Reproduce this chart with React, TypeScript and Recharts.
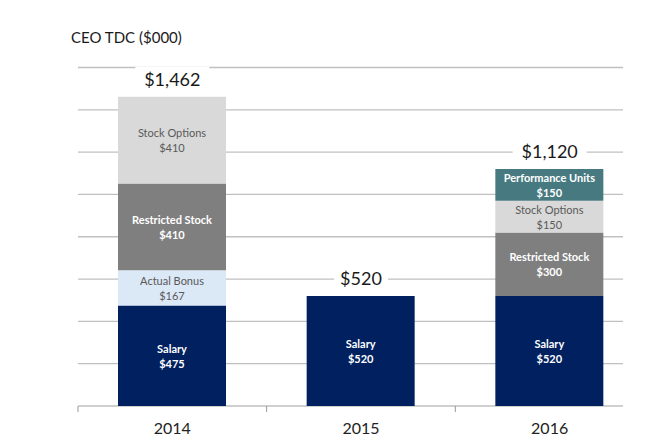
import { Bar, CartesianGrid, ComposedChart, LabelList, Line, XAxis, YAxis } from "recharts";

const years = ["2014", "2015", "2016"];
const salary = [475, 520, 520];
const actualBonus = [167, 0, 0];
const restrictedStock = [410, 0, 300];
const stockOptions = [410, 0, 150];
const performanceUnits = [0, 0, 150];
const yTicks = [0, 200, 400, 600, 800, 1000, 1200, 1400, 1600];

const data = years.map((year, i) => ({
  year,
  salary: salary[i],
  bonus: actualBonus[i],
  restricted: restrictedStock[i],
  options: stockOptions[i],
  performance: performanceUnits[i],
  total:
    salary[i] + actualBonus[i] + restrictedStock[i] + stockOptions[i] + performanceUnits[i]
}));

const FONT = "Lato, 'Open Sans', sans-serif";
const GRID = "#c0c0c0";
const GRID_END = 623;

const fmt = (v: number) => "$" + v.toLocaleString("en-US");

function segmentLabel(name: string, color: string, bold: boolean) {
  return (props: any) => {
    const { x, y, width, height, value } = props;
    if (!value) return null;
    const cx = x + width / 2;
    const cy = y + height / 2;
    return (
      <text
        x={cx}
        y={cy}
        textAnchor="middle"
        fill={color}
        fontFamily={FONT}
        fontSize={11}
        fontWeight={bold ? 700 : 400}
      >
        <tspan x={cx} dy={-3}>
          {name}
        </tspan>
        <tspan x={cx} dy={15}>
          {fmt(value)}
        </tspan>
      </text>
    );
  };
}

function TotalLabel(props: any) {
  const { x, y, value } = props;
  const text = fmt(value);
  const w = text.length * 10 + 14;
  const cy = y - 17;
  return (
    <g>
      <rect x={x - w / 2} y={cy - 13} width={w} height={26} fill="#fff" />
      <text
        x={x}
        y={cy + 6}
        textAnchor="middle"
        fill="#1a1a1a"
        fontFamily={FONT}
        fontSize={18}
      >
        {text}
      </text>
    </g>
  );
}

function YearTick(props: any) {
  const { x, y, payload } = props;
  const band = 188.7;
  return (
    <g>
      <line x1={x - band / 2} x2={x - band / 2} y1={y - 8} y2={y - 2} stroke="#999" strokeWidth={1} />
      <text x={x} y={y + 20} textAnchor="middle" fill="#222" fontFamily={FONT} fontSize={16}>
        {payload.value}
      </text>
    </g>
  );
}

function GridLine(props: any) {
  const { x1, y1, y2 } = props;
  return <line x1={x1} x2={GRID_END} y1={y1} y2={y2} stroke={GRID} strokeWidth={1.3} />;
}

export default function App() {
  return (
    <div style={{ position: "relative", width: 665, height: 443, background: "#fff" }}>
      <style>{"body{margin:0}"}</style>
      <div
        style={{
          position: "absolute",
          left: 71,
          top: 28,
          fontFamily: FONT,
          fontSize: 15,
          color: "#1a1a1a"
        }}
      >
        CEO TDC ($000)
      </div>
      <ComposedChart
        width={665}
        height={443}
        data={data}
        margin={{ top: 67.5, right: 21, left: 78, bottom: 0 }}
        barSize={108}
      >
        <CartesianGrid vertical={false} horizontal={GridLine} />
        <YAxis hide domain={[0, 1600]} ticks={yTicks} />
        <XAxis
          dataKey="year"
          axisLine={false}
          tickLine={false}
          height={37}
          tick={YearTick}
          interval={0}
        />
        <Bar dataKey="salary" stackId="a" fill="#002060" isAnimationActive={false}>
          <LabelList dataKey="salary" content={segmentLabel("Salary", "#fff", true)} />
        </Bar>
        <Bar dataKey="bonus" stackId="a" fill="#dbe8f6" isAnimationActive={false}>
          <LabelList dataKey="bonus" content={segmentLabel("Actual Bonus", "#595959", false)} />
        </Bar>
        <Bar dataKey="restricted" stackId="a" fill="#7f7f7f" isAnimationActive={false}>
          <LabelList dataKey="restricted" content={segmentLabel("Restricted Stock", "#fff", true)} />
        </Bar>
        <Bar dataKey="options" stackId="a" fill="#d9d9d9" isAnimationActive={false}>
          <LabelList dataKey="options" content={segmentLabel("Stock Options", "#595959", false)} />
        </Bar>
        <Bar dataKey="performance" stackId="a" fill="#477a80" isAnimationActive={false}>
          <LabelList dataKey="performance" content={segmentLabel("Performance Units", "#fff", true)} />
        </Bar>
        <Line
          dataKey="total"
          stroke="none"
          dot={false}
          activeDot={false}
          isAnimationActive={false}
        >
          <LabelList dataKey="total" content={TotalLabel} />
        </Line>
      </ComposedChart>
    </div>
  );
}
